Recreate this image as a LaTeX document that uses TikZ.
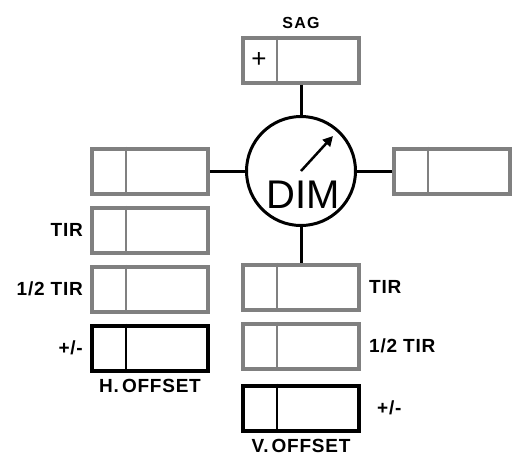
\documentclass[tikz,border=0pt]{standalone}
\usepackage{fontspec}
\setmainfont{Liberation Sans}
\usetikzlibrary{positioning}
\usetikzlibrary{arrows.meta}

\begin{document}
\begin{tikzpicture}[x=1pt, y=-1pt,
    graybox/.style={rectangle, draw=gray, line width=4pt, minimum width=116pt, minimum height=45pt, inner sep=0pt},
    blackbox/.style={graybox, draw=black},
    lbl/.style={inner sep=0pt, font=\fontsize{19}{21}\selectfont\bfseries\addfontfeature{LetterSpace=4}},
    small/.style={inner sep=0pt, font=\fontsize{16}{18}\selectfont\bfseries\addfontfeature{LetterSpace=8}},
    wire/.style={line width=3pt}]

    \useasboundingbox (0,0) rectangle (520,464);

    % Dial
    \node[circle, draw, line width=3pt, minimum size=109pt] (dim) at (301,171) {};
    \node[anchor=base, inner sep=0pt, font=\fontsize{40}{40}\selectfont] (dimtext) at (303,208) {DIM};
    \coordinate (tip) at (333,136);
    \draw[line width=2.5pt, -{Triangle[length=10pt, width=10pt]}] (dim.center) -- (tip);

    % Boxes
    \node[graybox] (sag) at (301,60) {};
    \node[graybox] (hdial) at (150,171) {};
    \node[graybox] (vdial) at (452,171) {};
    \node[graybox] (htir) at (150,230) {};
    \node[graybox] (hhalf) at (150,289) {};
    \node[blackbox] (hoff) at (150,348) {};
    \node[graybox] (vtir) at (301,287) {};
    \node[graybox] (vhalf) at (301,346) {};
    \node[blackbox] (voff) at (301,408) {};

    % Dividers
    \foreach \b in {sag,hdial,vdial,htir,hhalf,vtir,vhalf}
      \draw[gray, line width=2pt] ([xshift=36pt]\b.north west) -- ([xshift=36pt]\b.south west);
    \foreach \b in {hoff,voff}
      \draw[black, line width=2pt] ([xshift=36pt]\b.north west) -- ([xshift=36pt]\b.south west);

    % Wires
    \draw[wire] (sag) -- (dim);
    \draw[wire] (hdial) -- (dim);
    \draw[wire] (vdial) -- (dim);
    \draw[wire] (vtir) -- (dim);

    % Labels
    \node[small, above=7pt of sag] (sagtext) {SAG};
    \node[inner sep=0pt, font=\fontsize{26}{28}\selectfont] (plus) at ([xshift=18pt]sag.west) {+};
    \node[lbl, left=7pt of htir] (htirtext) {TIR};
    \node[lbl, left=7pt of hhalf] (hhalftext) {1/2 TIR};
    \node[lbl, left=7pt of hoff] (hofftext) {+/-};
    \node[lbl, below=7pt of hoff] (hname) {H.\,OFFSET};
    \node[lbl, right=8pt of vtir] (vtirtext) {TIR};
    \node[lbl, right=8pt of vhalf] (vhalftext) {1/2 TIR};
    \node[lbl, right=16pt of voff] (vofftext) {+/-};
    \node[lbl, below=7pt of voff] (vname) {V.\,OFFSET};
  \end{tikzpicture}
\end{document}
